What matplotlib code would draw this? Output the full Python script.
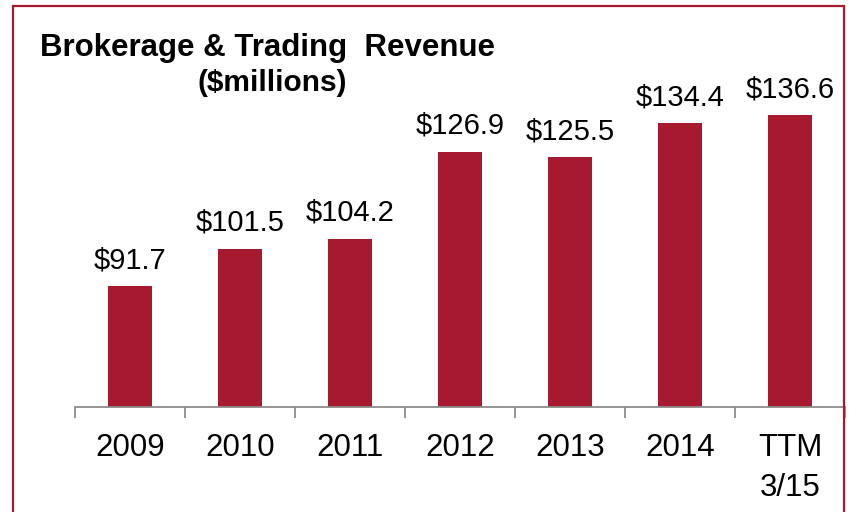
import matplotlib
matplotlib.use("Agg")
import matplotlib.pyplot as plt
from matplotlib.patches import Rectangle
import numpy as np

plt.rcParams["font.family"] = ["Liberation Sans", "DejaVu Sans"]

categories = ["2009", "2010", "2011", "2012", "2013", "2014", "TTM\n3/15"]
revenue = [91.7, 101.5, 104.2, 126.9, 125.5, 134.4, 136.6]
value_labels = ["$91.7", "$101.5", "$104.2", "$126.9", "$125.5", "$134.4", "$136.6"]

RED = "#A6192E"
W, H = 849, 512

fig = plt.figure(figsize=(W / 100, H / 100), dpi=100, facecolor="white")
ax = fig.add_axes([75 / W, 105 / H, 770 / W, 343 / H])

x = np.arange(len(categories))
ax.bar(x, revenue, width=0.4, color=RED, zorder=2)
for xi, v, lab in zip(x, revenue, value_labels):
    # label baseline sits ~18px above the bar top
    ax.annotate(lab, (xi, v), xytext=(0, 13), textcoords="offset points",
                ha="center", va="baseline", fontsize=21, color="black")

ax.set_xlim(-0.5, len(categories) - 0.5)
ax.set_ylim(60, 150)
for s in ("top", "right", "left"):
    ax.spines[s].set_visible(False)
ax.spines["bottom"].set_color("#8c8c8c")
ax.spines["bottom"].set_linewidth(1.3)
ax.set_yticks([])
ax.set_xticks(x)
ax.set_xticklabels(categories, fontsize=22.5, linespacing=1.4, va="top")
ax.tick_params(axis="x", which="major", length=0, pad=19)
ax.set_xticks(np.arange(len(categories) + 1) - 0.5, minor=True)
ax.tick_params(axis="x", which="minor", length=8, width=1.3, color="#8c8c8c", direction="out")

fig.text(40 / W, 1 - 56 / H, "Brokerage & Trading  Revenue", fontsize=22.5,
         fontweight="bold", ha="left", va="baseline")
fig.text(272 / W, 1 - 83 / H, "($millions)", fontsize=21.5,
         fontweight="bold", ha="center", va="center")

fig.patches.append(Rectangle((13 / W, -0.05), (844 - 13) / W, 1.05 - 6 / H,
                             transform=fig.transFigure, fill=False,
                             edgecolor=RED, linewidth=1.6))

fig.savefig("out.png", dpi=100, facecolor="white")
